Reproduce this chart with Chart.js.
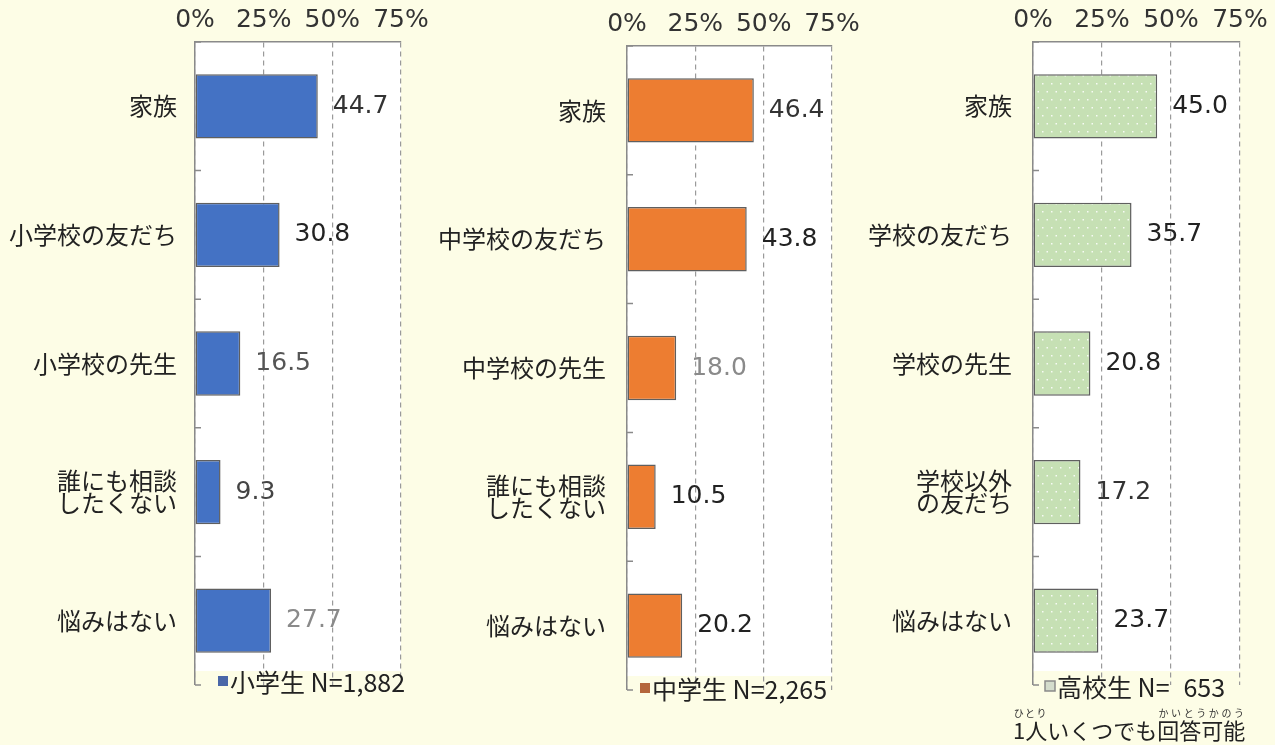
<!DOCTYPE html>
<html>
<head>
<meta charset="utf-8">
<script src="https://cdn.jsdelivr.net/npm/chart.js@4.4.1/dist/chart.umd.min.js"></script>
<style>
  html, body { margin: 0; padding: 0; background: #fdfde6; }
  body { width: 1275px; height: 745px; position: relative; overflow: hidden; }
  .panel { position: absolute; top: 0; height: 745px; }
  .note { position: absolute; left: 1013px; top: 708px; font-family: "Noto Sans CJK JP"; font-size: 22px; color: #222; line-height: 1; white-space: nowrap; }
  .note rt { font-size: 10px; color: #333; line-height: 1; }
</style>
</head>
<body>
<div class="panel" style="left:0px;width:430px"><canvas id="elemCanvas"></canvas></div>
<div class="panel" style="left:430px;width:430px"><canvas id="juniorCanvas"></canvas></div>
<div class="panel" style="left:860px;width:415px"><canvas id="highCanvas"></canvas></div>
<div class="note"><ruby>1人<rt>ひとり</rt></ruby>いくつでも<ruby>回答可能<rt>かいとうかのう</rt></ruby></div>

<script>
// values (%), multiple answers allowed
var ticksPct = [0, 25, 50, 75];

var elemLabels = ['家族', '小学校の友だち', '小学校の先生', ['誰にも相談', 'したくない'], '悩みはない'];
var elemValues = [44.7, 30.8, 16.5, 9.3, 27.7];
var elemLegend = '小学生 N=1,882';

var juniorLabels = ['家族', '中学校の友だち', '中学校の先生', ['誰にも相談', 'したくない'], '悩みはない'];
var juniorValues = [46.4, 43.8, 18.0, 10.5, 20.2];
var juniorLegend = '中学生 N=2,265';

var highLabels = ['家族', '学校の友だち', '学校の先生', ['学校以外', 'の友だち'], '悩みはない'];
var highValues = [45.0, 35.7, 20.8, 17.2, 23.7];
var highLegend = '高校生 N=\u2007653';

var cwSurvey = (function () {

    var mod = {};
    var jpFont = '"Noto Sans CJK JP", "Noto Sans", sans-serif';
    var numFont = '"DejaVu Sans", Verdana, sans-serif';

    mod.dotPattern = function () {
        var c = document.createElement('canvas');
        c.width = 9; c.height = 16;
        var g = c.getContext('2d');
        g.fillStyle = '#c6e0b4';
        g.fillRect(0, 0, 9, 16);
        g.fillStyle = 'rgba(255,255,255,0.85)';
        g.fillRect(2, 3, 1.5, 1.5);
        g.fillRect(6.5, 11, 1.5, 1.5);
        return g.createPattern(c, 'repeat');
    };

    // white plot, inner ticks, value labels and the little legend under the bars
    var decorate = {
        id: 'decorate',
        beforeDraw: function (chart) {
            var a = chart.chartArea, ctx = chart.ctx;
            ctx.save();
            ctx.fillStyle = '#ffffff';
            ctx.fillRect(a.left, a.top, a.right - a.left, a.bottom - a.top - 14);
            ctx.restore();
        },
        afterDatasetsDraw: function (chart) {
            var o = chart.options.plugins.decorate;
            var ctx = chart.ctx;
            var meta = chart.getDatasetMeta(0);
            var data = chart.data.datasets[0].data;
            var ys = chart.scales.y, a = chart.chartArea;
            var n = chart.data.labels.length;
            var step = n > 1 ? ys.getPixelForValue(1) - ys.getPixelForValue(0) : 0;
            ctx.save();
            ctx.strokeStyle = '#8a8a8a';
            ctx.lineWidth = 1.5;
            ctx.beginPath();
            for (var k = 0; k <= n; k++) {
                var ty = ys.getPixelForValue(0) + (k - 0.5) * step;
                ctx.moveTo(a.left, ty);
                ctx.lineTo(a.left + 6, ty);
            }
            ctx.stroke();

            ctx.font = '25px ' + numFont;
            ctx.textBaseline = 'middle';
            ctx.textAlign = 'left';
            meta.data.forEach(function (bar, i) {
                ctx.fillStyle = o.labelColors[i];
                ctx.fillText(data[i].toFixed(1), bar.x + 15, bar.y);
            });
            ctx.restore();
        },
        afterDraw: function (chart) {
            var o = chart.options.plugins.decorate;
            var a = chart.chartArea, ctx = chart.ctx;
            var x = a.left + o.legendDx, y = a.bottom + o.legendDy;
            ctx.save();
            ctx.fillStyle = o.boxColor;
            ctx.fillRect(x, y - 5, 10, 10);
            if (o.boxBorder) {
                ctx.strokeStyle = o.boxBorder;
                ctx.lineWidth = 1.5;
                ctx.strokeRect(x, y - 5, 10, 10);
            }
            ctx.fillStyle = '#222';
            ctx.font = '25px ' + jpFont;
            ctx.textBaseline = 'middle';
            ctx.fillText(o.legend, x + 12, y + 1);
            ctx.restore();
        }
    };

    mod.renderChart = function (elem, labels, values, cfg) {
        var ctx = document.getElementById(elem);
        return new Chart(ctx, {
            type: 'bar',
            data: {
                labels: labels,
                datasets: [{
                    data: values,
                    backgroundColor: cfg.fill,
                    borderColor: '#5f5f5f',
                    borderWidth: 1.5,
                    borderSkipped: false,
                    barPercentage: 0.5,
                    categoryPercentage: 1.0
                }]
            },
            options: {
                indexAxis: 'y',
                responsive: true,
                maintainAspectRatio: false,
                animation: false,
                layout: { padding: { left: 0, top: 0, right: cfg.padRight, bottom: cfg.padBottom } },
                plugins: {
                    legend: { display: false },
                    tooltip: { enabled: false },
                    decorate: {
                        labelColors: cfg.labelColors,
                        legend: cfg.legend,
                        legendDx: cfg.legendDx,
                        legendDy: cfg.legendDy,
                        boxColor: cfg.boxColor,
                        boxBorder: cfg.boxBorder
                    }
                },
                scales: {
                    x: {
                        position: 'top',
                        min: ticksPct[0],
                        max: ticksPct[ticksPct.length - 1],
                        afterBuildTicks: function (scale) {
                            scale.ticks = ticksPct.map(function (v) { return { value: v }; });
                        },
                        afterFit: function (scale) {
                            scale.height = cfg.top;
                            scale.paddingLeft = 0;
                            scale.paddingRight = 0;
                        },
                        ticks: {
                            padding: 7,
                            color: '#333',
                            font: { family: numFont, size: 25 },
                            callback: function (v) { return v + '%'; }
                        },
                        grid: { color: '#9a9a9a', lineWidth: 1.2, drawTicks: false },
                        border: { display: true, color: '#8a8a8a', width: 1.5, dash: [5, 4] }
                    },
                    y: {
                        afterFit: function (scale) {
                            scale.width = cfg.yWidth;
                            scale.paddingTop = 0;
                            scale.paddingBottom = 0;
                        },
                        ticks: {
                            padding: cfg.labelPad,
                            color: '#222',
                            font: { family: jpFont, size: 24, lineHeight: 0.92 }
                        },
                        grid: { drawOnChartArea: false, drawTicks: false, lineWidth: 0 },
                        border: { display: true, color: '#8a8a8a', width: 1.5 }
                    }
                }
            },
            plugins: [decorate]
        });
    };

    mod.drawCharts = function () {
        mod.renderChart('elemCanvas', elemLabels, elemValues, {
            fill: '#4472c4', yWidth: 195, top: 42, padRight: 29, padBottom: 60, labelPad: 18,
            labelColors: ['#333', '#222', '#555', '#444', '#8a8a8a'],
            legend: elemLegend, legendDx: 23, legendDy: -4, boxColor: '#4a67a8'
        });
        mod.renderChart('juniorCanvas', juniorLabels, juniorValues, {
            fill: '#ed7d31', yWidth: 197, top: 46, padRight: 28, padBottom: 55, labelPad: 21,
            labelColors: ['#333', '#222', '#8a8a8a', '#222', '#222'],
            legend: juniorLegend, legendDx: 13, legendDy: -2, boxColor: '#b4663c'
        });
        mod.renderChart('highCanvas', highLabels, highValues, {
            fill: mod.dotPattern(), yWidth: 173, top: 42, padRight: 35, padBottom: 60, labelPad: 21,
            labelColors: ['#222', '#222', '#222', '#333', '#222'],
            legend: highLegend, legendDx: 12, legendDy: 1, boxColor: '#d4dccc', boxBorder: '#8a8a8a'
        });
    };

    return mod;

}());

cwSurvey.drawCharts();
</script>
</body>
</html>
